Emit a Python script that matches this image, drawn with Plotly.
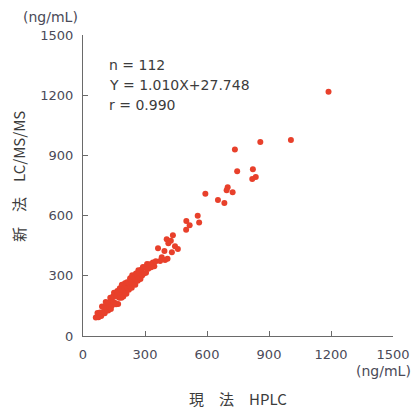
import plotly.graph_objects as go

# Outlying / upper-range points (HPLC, LC/MS/MS) in ng/mL
hplc_upper = [1188, 1006, 858, 735, 822, 746, 836, 819, 700, 695, 724, 592, 653, 684,
              555, 562, 500, 516, 499, 435, 405, 425, 363, 413, 445, 459, 430, 394,
              381, 397, 373, 409]
lcms_upper = [1217, 977, 967, 930, 831, 821, 792, 782, 741, 726, 716, 709, 678, 663,
              599, 566, 573, 552, 530, 502, 482, 475, 437, 462, 447, 433, 417, 424,
              392, 379, 374, 385]

# Dense lower cluster
hplc_low = [62, 70, 75, 82, 88, 92, 97, 102, 105, 110, 115, 118, 122, 125, 128, 132,
            135, 138, 140, 145, 148, 150, 155, 158, 160, 163, 166, 170, 172, 175, 178,
            180, 183, 186, 188, 190, 193, 195, 198, 200, 203, 206, 208, 210, 213, 216,
            219, 222, 225, 228, 230, 233, 236, 238, 241, 244, 247, 250, 253, 256, 259,
            262, 265, 268, 271, 274, 278, 282, 286, 290, 295, 300, 305, 310, 316, 322,
            330, 338, 345, 352]
lcms_low = [92, 115, 93, 117, 100, 147, 119, 144, 113, 170, 140, 166, 127, 163, 143, 190,
            135, 178, 152, 197, 170, 215, 165, 203, 158, 198, 224, 160, 214, 190, 238,
            205, 233, 191, 256, 208, 231, 197, 250, 228, 263, 218, 250, 210, 268, 238,
            267, 230, 260, 288, 245, 278, 241, 303, 266, 294, 259, 290, 255, 311, 279,
            310, 275, 328, 295, 317, 284, 330, 301, 344, 312, 343, 315, 359, 335, 357,
            342, 366, 347, 373]

x_vals = hplc_low + hplc_upper
y_vals = lcms_low + lcms_upper

tick_vals = [0, 300, 600, 900, 1200, 1500]
tick_text = ["0", "300", "600", "900", "1200", "1500"]

stats_lines = ["n = 112", "Y = 1.010X+27.748", "r = 0.990"]

W, H = 417, 410
ML, MR, MT, MB = 83, 24, 35, 74
pw = W - ML - MR
ph = H - MT - MB


def px(xp):
    return (xp - ML) / pw


def py(yp):
    return (H - MB - yp) / ph


fig = go.Figure()
fig.add_trace(go.Scatter(
    x=x_vals, y=y_vals, mode="markers",
    marker=dict(size=6, color="#e8402b", line=dict(width=0)),
    showlegend=False, hoverinfo="x+y", cliponaxis=False,
))

axis_common = dict(
    range=[0, 1500], tickmode="array", tickvals=tick_vals, ticktext=tick_text,
    showgrid=False, zeroline=False, showline=True, linecolor="#6a6a6a", linewidth=1,
    ticks="inside", ticklen=5, tickcolor="#6a6a6a", tickwidth=1,
    tickfont=dict(family="DejaVu Sans", size=13, color="#4a4a58"),
    fixedrange=True, automargin=False,
)
fig.update_xaxes(**axis_common, ticklabelstandoff=6)
fig.update_yaxes(**axis_common, ticklabelstandoff=6)

annots = []
text_font = dict(family="DejaVu Sans", size=14, color="#3c3c3c")
for i, line in enumerate(stats_lines):
    annots.append(dict(
        text=line, xref="paper", yref="paper", x=px(107), y=py(65 + 20 * i),
        xanchor="left", yanchor="middle", showarrow=False, font=text_font,
    ))
label_font = dict(family="DejaVu Sans", size=14, color="#4a4a58")
annots.append(dict(text="(ng/mL)", xref="paper", yref="paper", x=px(80), y=py(17),
                   xanchor="right", yanchor="middle", showarrow=False, font=label_font))
annots.append(dict(text="(ng/mL)", xref="paper", yref="paper", x=px(413), y=py(371),
                   xanchor="right", yanchor="middle", showarrow=False, font=label_font))
title_font = dict(family="Noto Sans CJK JP", size=15, color="#3c3c3c")
annots.append(dict(text="現　法　HPLC", xref="paper", yref="paper", x=px(238), y=py(398),
                   xanchor="center", yanchor="middle", showarrow=False, font=title_font))
annots.append(dict(text="新　法　LC/MS/MS", xref="paper", yref="paper", x=px(18), y=py(177),
                   xanchor="center", yanchor="middle", showarrow=False, font=title_font,
                   textangle=-90))

fig.update_layout(
    width=W, height=H,
    margin=dict(l=ML, r=MR, t=MT, b=MB, autoexpand=False),
    paper_bgcolor="white", plot_bgcolor="white",
    annotations=annots,
)

fig.write_html(
    "out.html",
    config={"displayModeBar": False},
    post_script="document.body.style.margin='0';document.body.style.padding='0';"
                "document.body.style.overflow='hidden';",
)
